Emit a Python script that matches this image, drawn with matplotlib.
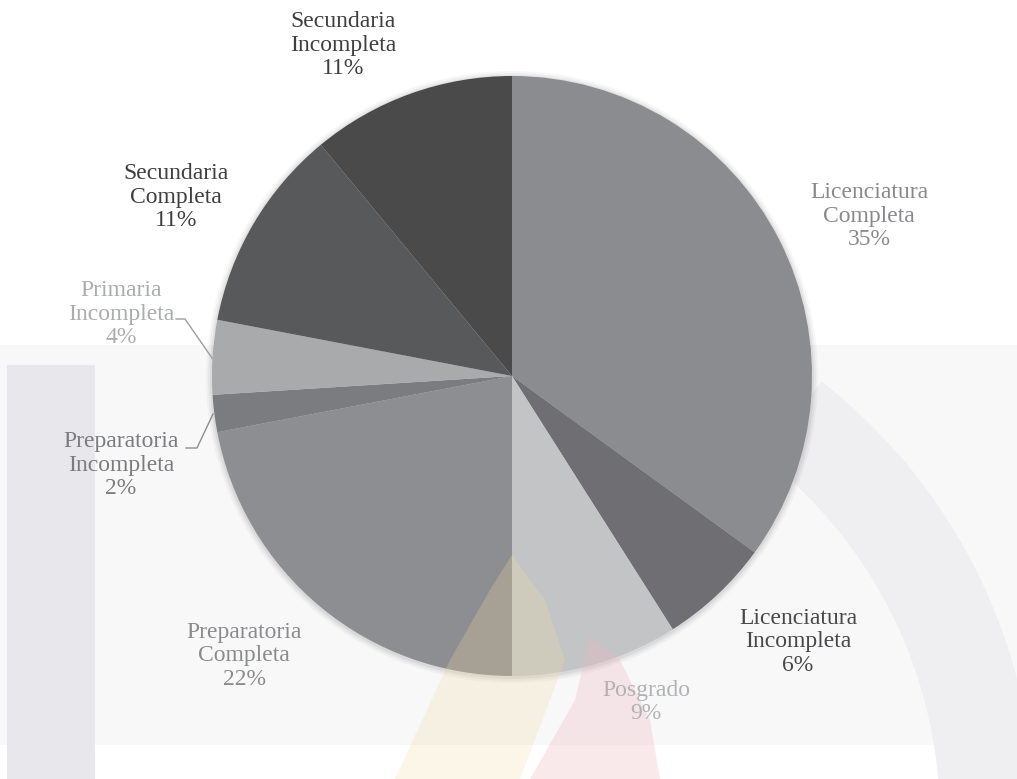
import numpy as np
import matplotlib.pyplot as plt
from matplotlib.patches import Polygon, Rectangle, Wedge

# nivel de estudios (porcentajes)
categorias = ["Licenciatura\nCompleta", "Licenciatura\nIncompleta", "Posgrado",
              "Preparatoria\nCompleta", "Preparatoria\nIncompleta", "Primaria\nIncompleta",
              "Secundaria\nCompleta", "Secundaria\nIncompleta"]
porcentajes = [35, 6, 9, 22, 2, 4, 11, 11]
colores = ["#8b8c8f", "#6f6f73", "#c3c4c6", "#8d8e91", "#7b7c7f", "#a9aaac", "#58595b", "#4a4a4b"]
color_texto = ["#88898c", "#48484a", "#b1b2b4", "#8a8b8e", "#7b7c7f", "#abacae", "#3f3f40", "#3f3f40"]
# posicion de cada etiqueta (px, origen arriba-izquierda)
pos_etiqueta = [(869, 216), (798, 642), (646, 702), (244, 656), (121, 465), (121, 314), (176, 197), (343, 45)]

W, H = 1017, 779
fig = plt.figure(figsize=(W / 100, H / 100), dpi=100)
ax = fig.add_axes([0, 0, 1, 1])

def Y(y):
    return H - y

# marca de agua de fondo
ax.add_patch(Rectangle((0, Y(745)), W, 400, color="#f8f8f9", zorder=0, lw=0))
ax.add_patch(Rectangle((7, 0), 88, Y(365), color="#e8e8ec", zorder=0, lw=0))
ax.add_patch(Wedge((480, -40), 555, 0, 52, width=95, color="#efeff2", zorder=0, lw=0))
ax.add_patch(Polygon([(512, Y(555)), (545, Y(600)), (565, Y(660)), (520, Y(779)), (395, Y(779)),
                      (450, Y(660)), (490, Y(590))],
                     color="#f2dca0", alpha=0.25, zorder=3, lw=0))
ax.add_patch(Polygon([(590, Y(637)), (620, Y(660)), (650, Y(720)), (660, Y(779)), (530, Y(779)),
                      (575, Y(700))],
                     color="#f0b8c0", alpha=0.3, zorder=3, lw=0))

# sombra del pastel
for k, a in enumerate([0.05, 0.04, 0.03]):
    ax.add_patch(plt.Circle((512, Y(377)), 302 + 2 * k, color="#000000", alpha=a, zorder=1, lw=0))

ax.pie(porcentajes, colors=colores, startangle=90, counterclock=False,
       center=(512, Y(376)), radius=300, frame=True,
       wedgeprops=dict(linewidth=0, zorder=2))
ax.set_xlim(0, W)
ax.set_ylim(0, H)
ax.set_aspect("equal")
ax.axis("off")

for cat, p, c, (x, y) in zip(categorias, porcentajes, color_texto, pos_etiqueta):
    ax.text(x, Y(y), f"{cat}\n{p}%", ha="center", va="center", color=c,
            fontsize=17, family="Liberation Serif", linespacing=1.16, zorder=4)

# lineas guia de las rebanadas pequenas
ax.plot([176, 185, 212], [Y(319), Y(319), Y(358)], color="#9d9ea0", lw=1, zorder=4)
ax.plot([186, 197, 213], [Y(448), Y(448), Y(414)], color="#8d8e91", lw=1, zorder=4)

fig.savefig("out.png", dpi=100)
